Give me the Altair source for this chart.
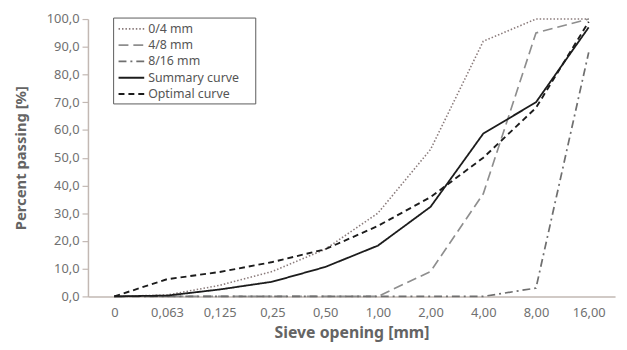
import altair as alt
import pandas as pd

sieves = ["0", "0,063", "0,125", "0,25", "0,50", "1,00", "2,00", "4,00", "8,00", "16,00"]
series_names = ["0/4 mm", "4/8 mm", "8/16 mm", "Summary curve", "Optimal curve"]
s_0_4 = [0, 0.5, 4, 9, 17, 30, 53, 92, 100, 100]
s_4_8 = [0, 0, 0, 0, 0, 0, 9, 37, 95, 100]
s_8_16 = [0, 0, 0, 0, 0, 0, 0, 0, 3, 88]
s_summary = [0, 0.3, 2.5, 5.3, 10.6, 18.3, 32.3, 58.7, 70, 97]
s_optimal = [0, 6.2, 8.8, 12.4, 17, 25.4, 35.8, 50, 68, 99]

colors = ["#8a7b7b", "#8e8e8e", "#6f6f6f", "#1c1c1c", "#1c1c1c"]
dashes = [[1.5, 2], [10, 5], [8, 4, 2, 4], [1, 0], [6, 4]]
widths = [1.6, 1.9, 1.9, 1.8, 2.2]

rows = []
for name, vals in zip(series_names, [s_0_4, s_4_8, s_8_16, s_summary, s_optimal]):
    for s, v in zip(sieves, vals):
        rows.append({"sieve": s, "value": v, "series": name})
df = pd.DataFrame(rows)
legend_df = pd.DataFrame({"series": series_names, "row": list(range(len(series_names)))})

font = "Noto Sans"

color_enc = alt.Color("series:N", sort=series_names,
                      scale=alt.Scale(domain=series_names, range=colors), legend=None)
dash_enc = alt.StrokeDash("series:N", sort=series_names,
                          scale=alt.Scale(domain=series_names, range=dashes), legend=None)
width_enc = alt.StrokeWidth("series:N", sort=series_names,
                            scale=alt.Scale(domain=series_names, range=widths), legend=None)

lines = alt.Chart(df).mark_line().encode(
    x=alt.X("sieve:O", sort=sieves, title="Sieve opening [mm]",
            axis=alt.Axis(labelAngle=0, ticks=False, labelPadding=10, titlePadding=6,
                          titleFontSize=16)),
    y=alt.Y("value:Q", title="Percent passing [%]",
            scale=alt.Scale(domain=[0, 100], nice=False),
            axis=alt.Axis(values=list(range(0, 101, 10)),
                          labelExpr="replace(format(datum.value, '.1f'), '.', ',')",
                          tickSize=6, labelPadding=3, titlePadding=18, grid=False,
                          titleFontSize=15)),
    color=color_enc, strokeDash=dash_enc, strokeWidth=width_enc,
)

legend_box = alt.Chart(pd.DataFrame({"k": [0]})).mark_rect(
    fill="white", stroke="#5a5a5a", strokeWidth=1
).encode(x=alt.value(26), x2=alt.value(170), y=alt.value(-1), y2=alt.value(86))

row_y = alt.Y("row:O", scale=alt.Scale(type="point", padding=0, range=[10, 76]), axis=None)

legend_lines = alt.Chart(legend_df).mark_rule().encode(
    x=alt.value(31), x2=alt.value(57), y=row_y,
    color=color_enc, strokeDash=dash_enc, strokeWidth=width_enc,
)

legend_text = alt.Chart(legend_df).mark_text(
    align="left", baseline="middle", font=font, fontSize=12.5, color="#555555"
).encode(x=alt.value(61), y=row_y, text="series:N")

chart = alt.layer(lines, legend_box, legend_lines, legend_text).resolve_scale(
    y="independent"
).properties(
    width=534, height=281,
    autosize=alt.AutoSizeParams(type="none"),
    padding={"left": 81, "top": 9, "right": 4, "bottom": 44},
).configure_view(stroke=None).configure_axis(
    domainColor="#c2b8b3", tickColor="#c2b8b3", domainWidth=1.5, tickWidth=1.2,
    labelColor="#707070", labelFont=font, labelFontSize=13,
    titleColor="#646464", titleFont=font, titleFontWeight="bold",
)

chart.save("out.html", embed_options={"renderer": "svg", "actions": False})
